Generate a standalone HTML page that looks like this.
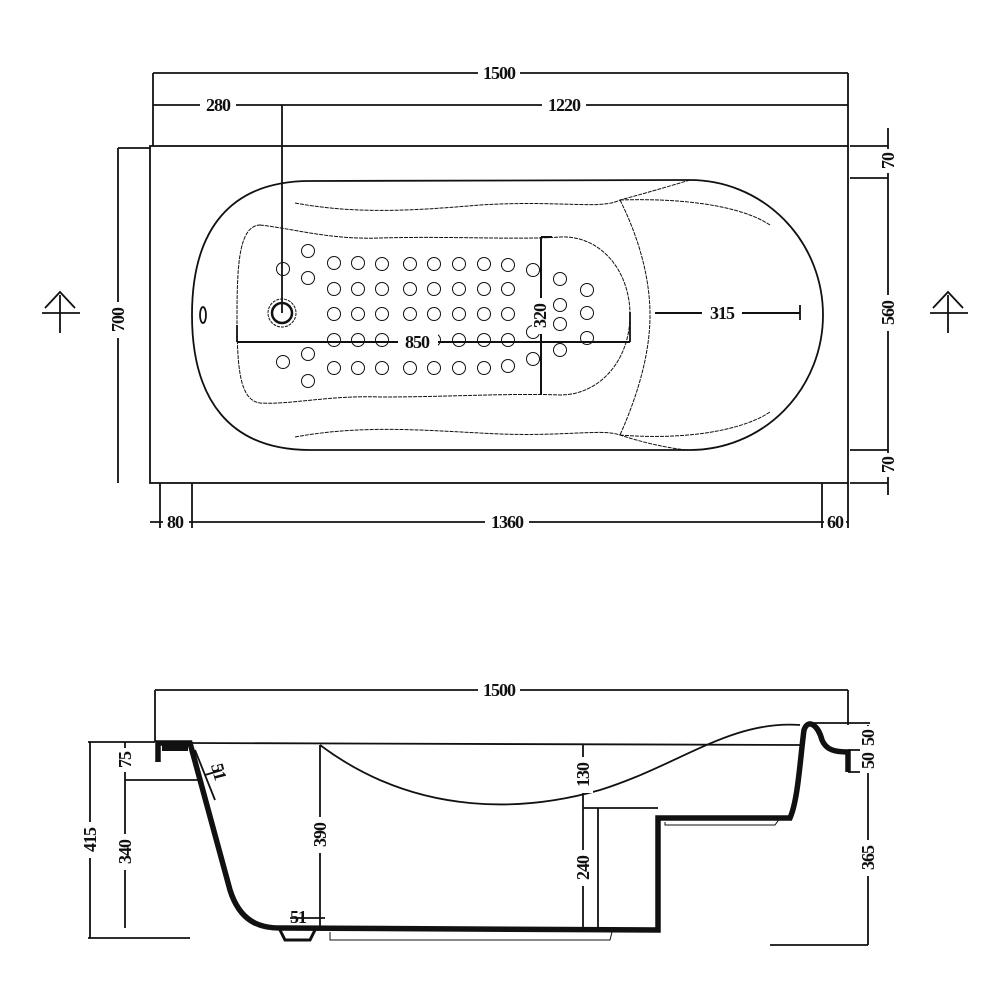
<!DOCTYPE html>
<html><head><meta charset="utf-8"><style>
html,body{margin:0;padding:0;background:#fff}
svg{display:block}
text{font-family:"Liberation Serif",serif;font-size:18px;font-weight:bold;letter-spacing:-1px;fill:#111}
</style></head><body>
<svg width="1000" height="1000" viewBox="0 0 1000 1000" xmlns="http://www.w3.org/2000/svg">
<g stroke="#111" fill="none" stroke-width="1.8">
<!-- TOP VIEW -->
<rect x="150" y="146" width="698" height="337"/>
<line x1="153" y1="73" x2="848" y2="73"/>
<line x1="153" y1="73" x2="153" y2="146"/>
<line x1="848" y1="73" x2="848" y2="146"/>
<line x1="153" y1="105" x2="848" y2="105"/>
<line x1="282" y1="105" x2="282" y2="313"/>
<line x1="118" y1="148" x2="118" y2="483"/>
<line x1="118" y1="148" x2="150" y2="148"/>
<line x1="888" y1="128" x2="888" y2="495"/>
<line x1="850" y1="178" x2="888" y2="178"/>
<line x1="850" y1="450" x2="888" y2="450"/>
<line x1="850" y1="146" x2="888" y2="146"/>
<line x1="850" y1="483" x2="888" y2="483"/>
<line x1="150" y1="522" x2="848" y2="522"/>
<line x1="160" y1="483" x2="160" y2="528"/>
<line x1="192" y1="483" x2="192" y2="528"/>
<line x1="822" y1="483" x2="822" y2="528"/>
<line x1="848" y1="483" x2="848" y2="528"/>
<path d="M310 181 L690 180 A133 135 0 0 1 690 450 L310 450 C230 450 192 400 192 315 C192 230 230 181 310 181 Z"/>
<g stroke-width="1" stroke-dasharray="4 1">
<path d="M295 203 C360 215 420 210 480 205 C560 200 600 210 620 200 C650 192 680 183 690 180"/>
<path d="M295 437 C360 425 420 430 480 433 C560 438 600 428 620 435 C650 445 680 450 690 450"/>
<path d="M620 200 C640 240 650 280 650 315 C650 350 640 390 620 435"/>
<path d="M620 200 C680 198 740 205 770 225"/>
<path d="M620 435 C680 440 740 432 770 412"/>
<path d="M260 225 C290 228 330 240 380 238 C450 236 520 240 560 237 C600 235 630 270 630 315 C630 360 600 395 560 395 C510 393 450 397 380 397 C330 395 290 405 260 403 C240 400 237 370 237 315 C237 260 240 226 260 225 Z"/>
</g>
<ellipse cx="203" cy="315" rx="3" ry="8"/>
<circle cx="282" cy="313" r="14" stroke-width="1" stroke-dasharray="3 1"/>
<circle cx="282" cy="313" r="10" stroke-width="2.5"/>
<g stroke-width="1">
<circle cx="308" cy="251" r="6.5"/><circle cx="283" cy="269" r="6.5"/><circle cx="308" cy="278" r="6.5"/>
<circle cx="283" cy="362" r="6.5"/><circle cx="308" cy="354" r="6.5"/><circle cx="308" cy="381" r="6.5"/>
<circle cx="533" cy="270" r="6.5"/><circle cx="533" cy="332" r="6.5"/><circle cx="533" cy="359" r="6.5"/>
<circle cx="560" cy="279" r="6.5"/><circle cx="587" cy="290" r="6.5"/><circle cx="560" cy="305" r="6.5"/>
<circle cx="587" cy="313" r="6.5"/><circle cx="560" cy="324" r="6.5"/><circle cx="587" cy="338" r="6.5"/>
<circle cx="560" cy="350" r="6.5"/>
<circle cx="334" cy="263" r="6.5"/><circle cx="358" cy="263" r="6.5"/><circle cx="382" cy="264" r="6.5"/><circle cx="410" cy="264" r="6.5"/><circle cx="434" cy="264" r="6.5"/><circle cx="459" cy="264" r="6.5"/><circle cx="484" cy="264" r="6.5"/><circle cx="508" cy="265" r="6.5"/>
<circle cx="334" cy="289" r="6.5"/><circle cx="358" cy="289" r="6.5"/><circle cx="382" cy="289" r="6.5"/><circle cx="410" cy="289" r="6.5"/><circle cx="434" cy="289" r="6.5"/><circle cx="459" cy="289" r="6.5"/><circle cx="484" cy="289" r="6.5"/><circle cx="508" cy="289" r="6.5"/>
<circle cx="334" cy="314" r="6.5"/><circle cx="358" cy="314" r="6.5"/><circle cx="382" cy="314" r="6.5"/><circle cx="410" cy="314" r="6.5"/><circle cx="434" cy="314" r="6.5"/><circle cx="459" cy="314" r="6.5"/><circle cx="484" cy="314" r="6.5"/><circle cx="508" cy="314" r="6.5"/>
<circle cx="334" cy="340" r="6.5"/><circle cx="358" cy="340" r="6.5"/><circle cx="382" cy="340" r="6.5"/><circle cx="410" cy="340" r="6.5"/><circle cx="434" cy="340" r="6.5"/><circle cx="459" cy="340" r="6.5"/><circle cx="484" cy="340" r="6.5"/><circle cx="508" cy="340" r="6.5"/>
<circle cx="334" cy="368" r="6.5"/><circle cx="358" cy="368" r="6.5"/><circle cx="382" cy="368" r="6.5"/><circle cx="410" cy="368" r="6.5"/><circle cx="434" cy="368" r="6.5"/><circle cx="459" cy="368" r="6.5"/><circle cx="484" cy="368" r="6.5"/><circle cx="508" cy="366" r="6.5"/>
</g>
<line x1="237" y1="342" x2="630" y2="342" stroke-width="2"/>
<line x1="237" y1="325" x2="237" y2="342"/>
<line x1="630" y1="312" x2="630" y2="342"/>
<line x1="541" y1="237" x2="541" y2="395" stroke-width="2"/>
<line x1="541" y1="237" x2="552" y2="237" stroke-width="2"/>
<line x1="655" y1="313" x2="800" y2="313" stroke-width="2"/>
<line x1="800" y1="305" x2="800" y2="320"/>
<line x1="42" y1="313" x2="80" y2="313"/><line x1="60" y1="295" x2="60" y2="333"/>
<path d="M45 308 L60 292 L75 308"/>
<line x1="930" y1="313" x2="968" y2="313"/><line x1="948" y1="295" x2="948" y2="333"/>
<path d="M933 308 L948 292 L963 308"/>

<!-- SIDE VIEW -->
<line x1="155" y1="690" x2="848" y2="690"/>
<line x1="155" y1="690" x2="155" y2="742"/>
<line x1="848" y1="690" x2="848" y2="725"/>
<line x1="190" y1="743" x2="800" y2="745"/>
<path d="M320 745 C420 820 530 810 600 790 C680 765 730 720 800 725"/>
<path d="M808 723 L870 723"/>
<path d="M158 762 L158 743 L190 743 L230 890 C240 922 260 928 280 928 L658 930 L658 818 L790 818 C798 800 800 760 804 730 C808 718 818 725 822 740 C826 750 835 752 848 752 L848 772" stroke-width="5.5"/>
<line x1="162" y1="748" x2="188" y2="748" stroke-width="6"/>
<path d="M280 930 L285 940 L310 940 L315 930" stroke-width="3"/>
<path d="M330 932 L330 940 L610 940 L612 932" stroke-width="1"/>
<path d="M665 822 L665 825 L775 825 L780 818" stroke-width="1"/>
<line x1="598" y1="808" x2="598" y2="928"/>
<line x1="583" y1="808" x2="658" y2="808"/>
<line x1="88" y1="742" x2="155" y2="742"/>
<line x1="90" y1="742" x2="90" y2="938"/>
<line x1="88" y1="938" x2="190" y2="938"/>
<line x1="125" y1="742" x2="125" y2="928"/>
<line x1="125" y1="780" x2="200" y2="780"/>
<line x1="320" y1="745" x2="320" y2="930"/>
<line x1="583" y1="745" x2="583" y2="930"/>
<line x1="868" y1="725" x2="868" y2="945"/>
<line x1="770" y1="945" x2="868" y2="945"/>
<line x1="848" y1="750" x2="868" y2="750"/>
<line x1="848" y1="772" x2="868" y2="772"/>
<line x1="195" y1="750" x2="215" y2="800"/>
<line x1="205" y1="775" x2="222" y2="770"/>
<line x1="290" y1="918" x2="325" y2="918"/>
</g>
<g text-anchor="middle">
<rect x="478" y="64" width="42" height="18" fill="#fff"/><text x="499" y="79">1500</text>
<rect x="200" y="96" width="36" height="18" fill="#fff"/><text x="218" y="111">280</text>
<rect x="542" y="96" width="44" height="18" fill="#fff"/><text x="564" y="111">1220</text>
<rect x="163" y="513" width="26" height="18" fill="#fff"/><text x="175" y="528">80</text>
<rect x="485" y="513" width="44" height="18" fill="#fff"/><text x="507" y="528">1360</text>
<rect x="824" y="513" width="22" height="18" fill="#fff"/><text x="835" y="528">60</text>
<rect x="398" y="333" width="40" height="18" fill="#fff"/><text x="417" y="348">850</text>
<rect x="702" y="304" width="40" height="18" fill="#fff"/><text x="722" y="319">315</text>
<rect x="478" y="681" width="42" height="18" fill="#fff"/><text x="499" y="696">1500</text>
</g>
<g text-anchor="middle">
<g transform="translate(124,320) rotate(-90)"><rect x="-18" y="-14" width="36" height="18" fill="#fff"/><text x="0" y="0">700</text></g>
<g transform="translate(546,316) rotate(-90)"><rect x="-18" y="-14" width="36" height="18" fill="#fff"/><text x="0" y="0">320</text></g>
<g transform="translate(894,161) rotate(-90)"><rect x="-12" y="-14" width="24" height="18" fill="#fff"/><text x="0" y="0">70</text></g>
<g transform="translate(894,313) rotate(-90)"><rect x="-18" y="-14" width="36" height="18" fill="#fff"/><text x="0" y="0">560</text></g>
<g transform="translate(894,465) rotate(-90)"><rect x="-12" y="-14" width="24" height="18" fill="#fff"/><text x="0" y="0">70</text></g>
<g transform="translate(96,840) rotate(-90)"><rect x="-18" y="-14" width="36" height="18" fill="#fff"/><text x="0" y="0">415</text></g>
<g transform="translate(131,760) rotate(-90)"><rect x="-12" y="-14" width="24" height="18" fill="#fff"/><text x="0" y="0">75</text></g>
<g transform="translate(131,852) rotate(-90)"><rect x="-18" y="-14" width="36" height="18" fill="#fff"/><text x="0" y="0">340</text></g>
<g transform="translate(326,835) rotate(-90)"><rect x="-18" y="-14" width="36" height="18" fill="#fff"/><text x="0" y="0">390</text></g>
<g transform="translate(589,775) rotate(-90)"><rect x="-18" y="-14" width="36" height="18" fill="#fff"/><text x="0" y="0">130</text></g>
<g transform="translate(589,868) rotate(-90)"><rect x="-18" y="-14" width="36" height="18" fill="#fff"/><text x="0" y="0">240</text></g>
<g transform="translate(874,738) rotate(-90)"><rect x="-12" y="-14" width="24" height="18" fill="#fff"/><text x="0" y="0">50</text></g>
<g transform="translate(874,761) rotate(-90)"><rect x="-12" y="-14" width="24" height="18" fill="#fff"/><text x="0" y="0">50</text></g>
<g transform="translate(874,858) rotate(-90)"><rect x="-18" y="-14" width="36" height="18" fill="#fff"/><text x="0" y="0">365</text></g>
<g transform="translate(213,773) rotate(75)"><text x="0" y="0">51</text></g>
<text x="298" y="923">51</text>
</g>
</svg>
</body></html>
